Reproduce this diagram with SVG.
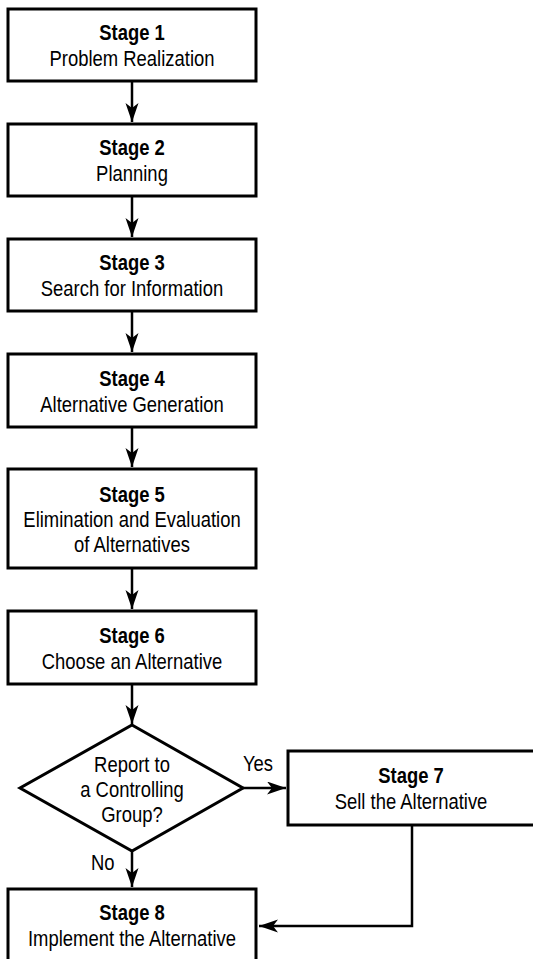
<svg xmlns="http://www.w3.org/2000/svg" width="533" height="959" viewBox="0 0 533 959">
<style>
.box{fill:#fff;stroke:#000;stroke-width:3}
.t{font-family:'Liberation Sans',Arial,sans-serif;font-size:22.5px;text-anchor:middle;fill:#000}
.b{font-weight:bold}
.lbl{font-family:'Liberation Sans',Arial,sans-serif;font-size:22.5px;fill:#000}
.c{fill:none;stroke:#000;stroke-width:2.5}
</style>
<defs>
<marker id="ah" markerUnits="userSpaceOnUse" markerWidth="20" markerHeight="14" refX="19" refY="6.5" orient="auto">
<path d="M0,0 L19,6.5 L0,13 L5,6.5 z" fill="#000"/>
</marker>
</defs>
<rect width="533" height="959" fill="#fff"/>
<g id="connectors">
<line class="c" x1="132" y1="81" x2="132" y2="122" marker-end="url(#ah)"/>
<line class="c" x1="132" y1="196" x2="132" y2="237" marker-end="url(#ah)"/>
<line class="c" x1="132" y1="311" x2="132" y2="352" marker-end="url(#ah)"/>
<line class="c" x1="132" y1="427" x2="132" y2="467" marker-end="url(#ah)"/>
<line class="c" x1="132" y1="568" x2="132" y2="609" marker-end="url(#ah)"/>
<line class="c" x1="132" y1="684" x2="132" y2="724" marker-end="url(#ah)"/>
<line class="c" x1="243" y1="788" x2="286" y2="788" marker-end="url(#ah)"/>
<line class="c" x1="132" y1="851" x2="132" y2="887" marker-end="url(#ah)"/>
<polyline class="c" points="412,825 412,926 259,926" marker-end="url(#ah)"/>
<text class="lbl" transform="translate(243,771) scale(0.82,1)">Yes</text>
<text class="lbl" transform="translate(91,870) scale(0.82,1)">No</text>
</g>
<g id="stage1">
<rect class="box" x="8" y="9" width="248" height="72"/>
<text class="t b" transform="translate(132,40) scale(0.82,1)">Stage 1</text>
<text class="t" transform="translate(132,66) scale(0.82,1)">Problem Realization</text>
</g>
<g id="stage2">
<rect class="box" x="8" y="124" width="248" height="72"/>
<text class="t b" transform="translate(132,155) scale(0.82,1)">Stage 2</text>
<text class="t" transform="translate(132,181) scale(0.82,1)">Planning</text>
</g>
<g id="stage3">
<rect class="box" x="8" y="239" width="248" height="72"/>
<text class="t b" transform="translate(132,270) scale(0.82,1)">Stage 3</text>
<text class="t" transform="translate(132,296) scale(0.82,1)">Search for Information</text>
</g>
<g id="stage4">
<rect class="box" x="8" y="354" width="248" height="73"/>
<text class="t b" transform="translate(132,385.5) scale(0.82,1)">Stage 4</text>
<text class="t" transform="translate(132,411.5) scale(0.82,1)">Alternative Generation</text>
</g>
<g id="stage5">
<rect class="box" x="8" y="469" width="248" height="99"/>
<text class="t b" transform="translate(132,501.5) scale(0.82,1)">Stage 5</text>
<text class="t" transform="translate(132,526.5) scale(0.82,1)">Elimination and Evaluation</text>
<text class="t" transform="translate(132,551.5) scale(0.82,1)">of Alternatives</text>
</g>
<g id="stage6">
<rect class="box" x="8" y="611" width="248" height="73"/>
<text class="t b" transform="translate(132,642.5) scale(0.82,1)">Stage 6</text>
<text class="t" transform="translate(132,668.5) scale(0.82,1)">Choose an Alternative</text>
</g>
<g id="decision">
<polygon class="box" points="132,725 243,788 132,851 20,788"/>
<text class="t" transform="translate(132,771.5) scale(0.82,1)">Report to</text>
<text class="t" transform="translate(132,796.5) scale(0.82,1)">a Controlling</text>
<text class="t" transform="translate(132,821.5) scale(0.82,1)">Group?</text>
</g>
<g id="stage7">
<rect class="box" x="288" y="751" width="250" height="74"/>
<text class="t b" transform="translate(411,783) scale(0.82,1)">Stage 7</text>
<text class="t" transform="translate(411,808.5) scale(0.82,1)">Sell the Alternative</text>
</g>
<g id="stage8">
<rect class="box" x="8" y="889" width="248" height="74"/>
<text class="t b" transform="translate(132,920) scale(0.82,1)">Stage 8</text>
<text class="t" transform="translate(132,946) scale(0.82,1)">Implement the Alternative</text>
</g>
</svg>
